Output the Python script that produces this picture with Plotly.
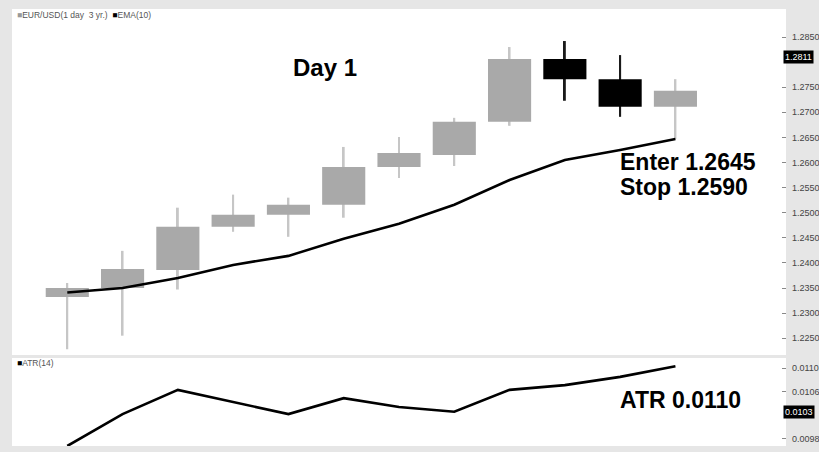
import plotly.graph_objects as go

# ---- data ----
days = list(range(12))
opens  = [1.2332, 1.2350, 1.2386, 1.2472, 1.2496, 1.2516, 1.2591, 1.2615, 1.2681, 1.2806, 1.2766, 1.2711]
highs  = [1.2360, 1.2424, 1.2510, 1.2536, 1.2530, 1.2631, 1.2651, 1.2689, 1.2830, 1.2842, 1.2814, 1.2766]
lows   = [1.2228, 1.2255, 1.2347, 1.2462, 1.2452, 1.2490, 1.2569, 1.2593, 1.2673, 1.2723, 1.2691, 1.2647]
closes = [1.2350, 1.2388, 1.2472, 1.2496, 1.2516, 1.2591, 1.2619, 1.2681, 1.2806, 1.2766, 1.2711, 1.2743]
ema10  = [1.2341, 1.2350, 1.2370, 1.2396, 1.2414, 1.2448, 1.2478, 1.2516, 1.2565, 1.2605, 1.2625, 1.2647]
atr14  = [0.00968, 0.01022, 0.01063, 0.01043, 0.01022, 0.01049, 0.01034, 0.01026, 0.01063, 0.01071, 0.01085, 0.01103]
# 1.2800 and 0.0102 ticks are hidden behind the last-value labels in the reference
price_ticks = [1.2250, 1.2300, 1.2350, 1.2400, 1.2450, 1.2500, 1.2550, 1.2600, 1.2650, 1.2700, 1.2750, 1.2850]
atr_ticks = [0.0098, 0.0106, 0.0110]
last_price = 1.2811
last_atr_label = "0.0103"

UP_BODY = "#a9a9a9"
UP_WICK = "#c6c6c6"
DN_BODY = "#000000"
DN_WICK = "#1a1a1a"

body_base = [min(o, c) for o, c in zip(opens, closes)]
body_h = [abs(c - o) for o, c in zip(opens, closes)]
is_up = [c >= o for o, c in zip(opens, closes)]
body_col = [UP_BODY if u else DN_BODY for u in is_up]
wick_col = [UP_WICK if u else DN_WICK for u in is_up]

fig = go.Figure()
fig.add_trace(go.Bar(x=days, y=[h - l for h, l in zip(highs, lows)], base=lows, width=0.035,
                     marker=dict(color=wick_col, line=dict(width=0)),
                     xaxis="x", yaxis="y", showlegend=False, hoverinfo="skip"))
fig.add_trace(go.Bar(x=days, y=body_h, base=body_base, width=0.78,
                     marker=dict(color=body_col, line=dict(width=0)),
                     xaxis="x", yaxis="y", showlegend=False))
fig.add_trace(go.Scatter(x=days, y=ema10, mode="lines", line=dict(color="black", width=2.6),
                         xaxis="x", yaxis="y", showlegend=False))
fig.add_trace(go.Scatter(x=days, y=atr14, mode="lines", line=dict(color="black", width=2.6),
                         xaxis="x2", yaxis="y2", showlegend=False))

axis_font = dict(family="Liberation Sans, Arial, sans-serif", size=9, color="#444444")
fig.update_layout(
    width=819, height=452,
    margin=dict(l=12, r=33, t=9, b=6),
    paper_bgcolor="#e6e6e6", plot_bgcolor="white",
    barmode="overlay", showlegend=False,
    xaxis=dict(domain=[0, 1], range=[-1, 13], visible=False, anchor="y"),
    xaxis2=dict(domain=[0, 1], range=[-1, 13], visible=False, anchor="y2", matches="x"),
    yaxis=dict(domain=[0.2082, 1], range=[1.22165, 1.29058], side="right", anchor="x",
               tickvals=price_ticks, tickformat=".4f", ticks="inside", ticklen=4,
               tickcolor="#888888", showgrid=False, zeroline=False, showline=False,
               tickfont=axis_font, automargin=False, ticklabelstandoff=5),
    yaxis2=dict(domain=[0, 0.2014], range=[0.00968, 0.01117], side="right", anchor="x2",
                tickvals=atr_ticks, tickformat=".4f", ticks="inside", ticklen=4,
                tickcolor="#888888", showgrid=False, zeroline=False, showline=False,
                tickfont=axis_font, automargin=False, ticklabelstandoff=5),
)

big = dict(family="Liberation Sans, Arial, sans-serif", size=23, color="black")
small = dict(family="Liberation Sans, Arial, sans-serif", size=8.5, color="#555555")
ann = [
    dict(text="<b>Day 1</b>", x=0.4044, y=0.865, xanchor="center", yanchor="middle",
         font=dict(big, size=24)),
    dict(text="<b>Enter 1.2645</b>", x=0.7830, y=0.650, xanchor="left", yanchor="middle", font=big),
    dict(text="<b>Stop 1.2590</b>", x=0.7830, y=0.5927, xanchor="left", yanchor="middle", font=big),
    dict(text="<b>ATR 0.0110</b>", x=0.7830, y=0.1053, xanchor="left", yanchor="middle", font=big),
    dict(text="<span style='color:#999999'>■</span>EUR/USD(1 day  3 yr.)  <span style='color:#000000'>■</span>EMA(10)",
         x=0.004, y=0.986, xanchor="left", yanchor="middle", font=small),
    dict(text="<span style='color:#000000'>■</span>ATR(14)",
         x=0.004, y=0.190, xanchor="left", yanchor="middle", font=small),
]
for a in ann:
    a.update(xref="paper", yref="paper", showarrow=False)
    fig.add_annotation(**a)

fig.add_annotation(text="%.4f" % last_price, xref="paper", yref="y", x=0.9962, y=last_price,
                   xanchor="left", yanchor="middle", showarrow=False, bgcolor="black",
                   font=dict(family="Liberation Sans, Arial, sans-serif", size=9, color="white"),
                   borderpad=1)
fig.add_annotation(text=last_atr_label, xref="paper", yref="paper", x=0.9962, y=0.0778,
                   xanchor="left", yanchor="middle", showarrow=False, bgcolor="black",
                   font=dict(family="Liberation Sans, Arial, sans-serif", size=9, color="white"),
                   borderpad=1)

fig.write_html("out.html", config={"displayModeBar": False},
               post_script="document.body.style.margin='0';document.body.style.padding='0';")
